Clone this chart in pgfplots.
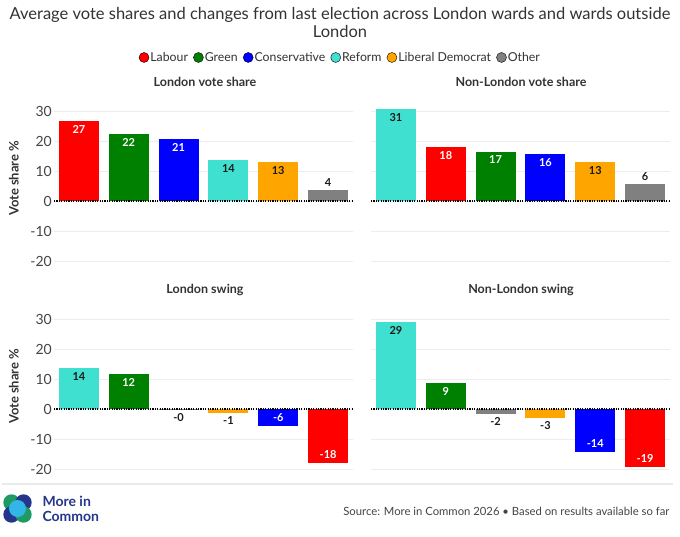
\documentclass[border=0pt]{standalone}
\usepackage{fontspec}
\setmainfont{Lato}
\usepackage{pgfplots}
\pgfplotsset{compat=1.18}
\definecolor{labour}{HTML}{FF0000}
\definecolor{green}{HTML}{008000}
\definecolor{cons}{HTML}{0000FF}
\definecolor{reform}{HTML}{40E0D0}
\definecolor{ld}{HTML}{FFA500}
\definecolor{other}{HTML}{808080}
\definecolor{titlec}{HTML}{333333}
\definecolor{tickc}{HTML}{444444}
\definecolor{labc}{HTML}{1A1A1A}
\definecolor{navy}{HTML}{24358C}
\definecolor{logoG}{HTML}{1E9B63}
\definecolor{logoC}{HTML}{33B5E8}
\tikzset{lbl/.style={font=\bfseries\fontsize{11}{11}\selectfont}}
\pgfplotsset{
  panel/.style={scale only axis, width=299pt, height=159pt,
    xmin=-0.5, xmax=5.5, ymin=-20, ymax=33,
    axis line style={draw=none}, major tick length=0pt,
    xtick=\empty, ytick={-20,-10,0,10,20,30},
    yticklabels={-20,-10,0,10,20,30},
    ymajorgrids, grid style={color=black!7, line width=0.7pt},
    clip=false, anchor=south west,
    yticklabel style={font=\fontsize{14}{14}\selectfont, text=tickc, inner sep=0pt, xshift=-2pt},
  },
  noticks/.style={yticklabels={}},
  bw/.style={ybar, bar width=40pt, bar shift=0pt, fill=#1, draw=none, forget plot,
    point meta=explicit symbolic, nodes near coords},
  inT/.style={every node near coord/.append style={lbl, anchor=north, yshift=-1pt, text=#1}},
  inB/.style={every node near coord/.append style={lbl, anchor=south, yshift=1pt, text=#1}},
  outT/.style={every node near coord/.append style={lbl, anchor=south, text=labc}},
  outB/.style={every node near coord/.append style={lbl, anchor=north, text=labc}},
  ylab/.style={ylabel={\bfseries Vote share \%}, ylabel style={font=\fontsize{13}{13}\selectfont, text=titlec, at={(axis description cs:-0.134,0.52)}, anchor=center}},
}
\newcommand{\zeroline}{\draw[black, line width=1.2pt, dash pattern=on 1.2pt off 1.2pt] (axis cs:-0.5,0) -- (axis cs:5.5,0);}
\begin{document}
\begin{tikzpicture}[x=1pt,y=1pt]
\path[use as bounding box, fill=white] (0,0) rectangle (680,536);
\node[font=\fontsize{16.5}{18}\selectfont, text=titlec, align=center] at (340,514)
  {Average vote shares and changes from last election across London wards and wards outside\\London};
\foreach \x/\y/\t in {205/454/London vote share, 521/454/Non-London vote share, 205/246/London swing, 521/246/Non-London swing}
  \node[font=\bfseries\fontsize{12.5}{13}\selectfont, text=titlec] at (\x,\y) {\t};

% Top-left: London vote share
\begin{axis}[panel, ylab, at={(54pt,275pt)},
  legend columns=6,
  legend image code/.code={\fill[#1] (0pt,0pt) circle (5pt);},
  legend style={draw=none, fill=none, at={(0.9565,1.28)}, anchor=center,
    font=\fontsize{12.3}{13}\selectfont, text=titlec,
    nodes={inner sep=1.2pt},
    /tikz/every even column/.append style={column sep=4pt},
    /tikz/every odd column/.append style={column sep=0pt}}]
\addlegendimage{fill=labour}\addlegendentry{Labour}
\addlegendimage{fill=green}\addlegendentry{Green}
\addlegendimage{fill=cons}\addlegendentry{Conservative}
\addlegendimage{fill=reform}\addlegendentry{Reform}
\addlegendimage{fill=ld}\addlegendentry{Liberal Democrat}
\addlegendimage{fill=other}\addlegendentry{Other}
\addplot[bw=labour, inT=white] coordinates {(0,26.6) [27]};
\addplot[bw=green, inT=white] coordinates {(1,22.2) [22]};
\addplot[bw=cons, inT=white] coordinates {(2,20.7) [21]};
\addplot[bw=reform, inT=labc] coordinates {(3,13.8) [14]};
\addplot[bw=ld, inT=labc] coordinates {(4,12.9) [13]};
\addplot[bw=other, outT] coordinates {(5,3.6) [4]};
\zeroline
\end{axis}

% Top-right: Non-London vote share
\begin{axis}[panel, noticks, at={(371pt,275pt)}]
\addplot[bw=reform, inT=labc] coordinates {(0,30.6) [31]};
\addplot[bw=labour, inT=white] coordinates {(1,18.1) [18]};
\addplot[bw=green, inT=white] coordinates {(2,16.5) [17]};
\addplot[bw=cons, inT=white] coordinates {(3,15.7) [16]};
\addplot[bw=ld, inT=labc] coordinates {(4,12.9) [13]};
\addplot[bw=other, outT] coordinates {(5,5.6) [6]};
\zeroline
\end{axis}

% Bottom-left: London swing
\begin{axis}[panel, ylab, at={(54pt,67pt)}]
\addplot[bw=reform, inT=labc] coordinates {(0,13.8) [14]};
\addplot[bw=green, inT=white] coordinates {(1,11.8) [12]};
\addplot[bw=other, outB] coordinates {(2,-0.2) [-0]};
\addplot[bw=ld, outB] coordinates {(3,-1.4) [-1]};
\addplot[bw=cons, inB=white] coordinates {(4,-5.7) [-6]};
\addplot[bw=labour, inB=white] coordinates {(5,-18.0) [-18]};
\zeroline
\end{axis}

% Bottom-right: Non-London swing
\begin{axis}[panel, noticks, at={(371pt,67pt)}]
\addplot[bw=reform, inT=labc] coordinates {(0,29.0) [29]};
\addplot[bw=green, inT=white] coordinates {(1,8.8) [9]};
\addplot[bw=other, outB] coordinates {(2,-1.7) [-2]};
\addplot[bw=ld, outB] coordinates {(3,-3.0) [-3]};
\addplot[bw=cons, inB=white] coordinates {(4,-14.3) [-14]};
\addplot[bw=labour, inB=white] coordinates {(5,-19.3) [-19]};
\zeroline
\end{axis}

% footer
\draw[black!8, line width=1.5pt] (2,52) -- (673,52);
\begin{scope}[shift={(17.5,27.5)}]
  \fill[logoG] (-6,6) circle (8.2);
  \fill[navy] (6,6) circle (8.2);
  \fill[navy] (-6,-6) circle (8.2);
  \fill[logoG] (6,-6) circle (8.2);
  \fill[logoC] (0,-9) .. controls (-2,-2) .. (-9,0) .. controls (-2,2) .. (0,9) .. controls (2,2) .. (9,0) .. controls (2,-2) .. (0,-9) -- cycle;
  \begin{scope}
    \clip (-6,6) circle (8.2) (6,6) circle (8.2) (-6,-6) circle (8.2) (6,-6) circle (8.2);
    \fill[logoC] (0,0) circle (8.5);
  \end{scope}
\end{scope}
\node[font=\bfseries\fontsize{14}{15}\selectfont, text=navy, align=left, anchor=west] at (39,27) {More in\\Common};
\node[font=\fontsize{11.3}{12}\selectfont, text=tickc, anchor=east] at (673,25) {Source: More in Common 2026 • Based on results available so far};
\end{tikzpicture}
\end{document}
